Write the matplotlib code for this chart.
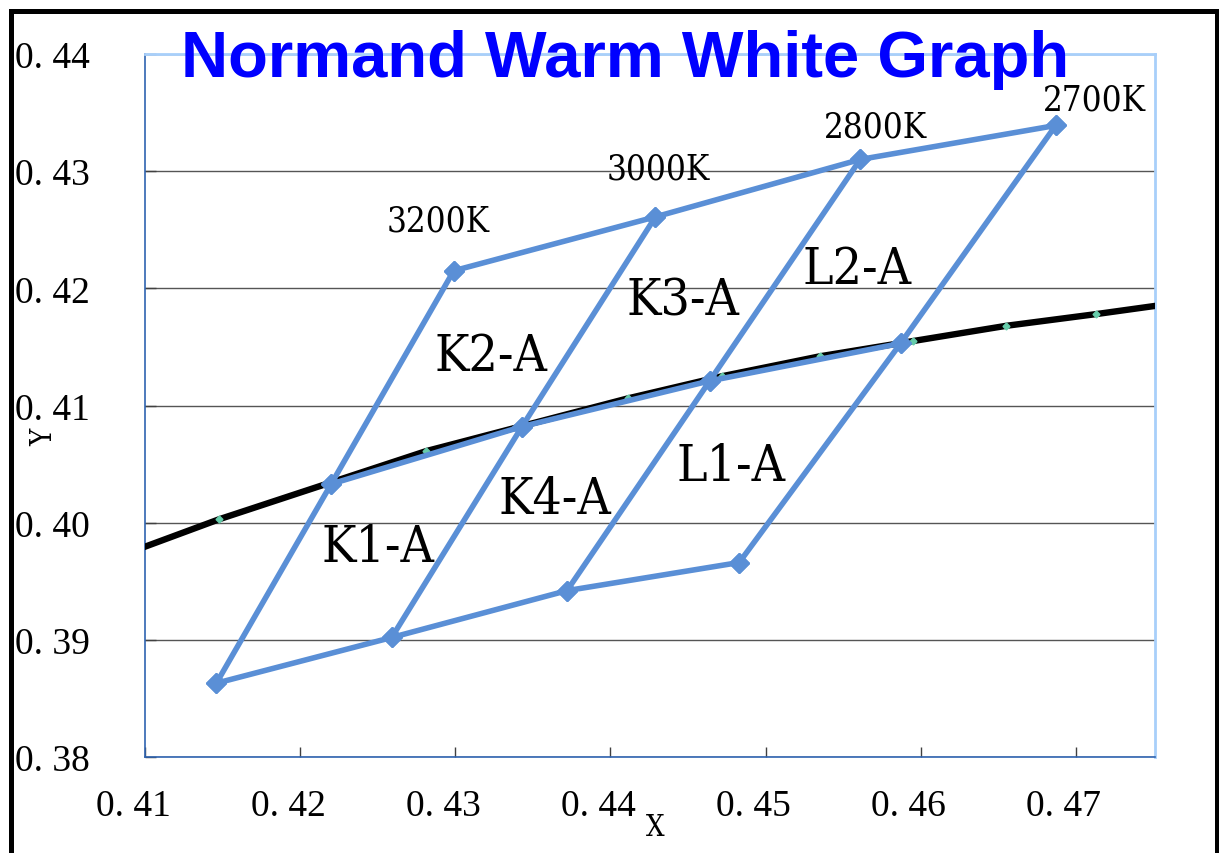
import matplotlib
matplotlib.use("Agg")
import matplotlib.pyplot as plt
from matplotlib.lines import Line2D
from matplotlib.transforms import ScaledTranslation

# DATA
# corner points of the bins (top row = upper edge, mid row = on the black curve, bot row = lower edge)
cct_labels = ['3200K', '3000K', '2800K', '2700K']
top_x = [0.4299, 0.4429, 0.4561, 0.4687]
top_y = [0.4215, 0.4261, 0.4310, 0.4339]
mid_x = [0.4220, 0.4343, 0.4464, 0.4587]
mid_y = [0.4033, 0.4082, 0.4121, 0.4153]
bot_x = [0.4146, 0.4259, 0.4372, 0.4483]
bot_y = [0.3863, 0.3902, 0.3942, 0.3966]

# black locus curve
curve_x = [0.405, 0.4148, 0.4281, 0.4411, 0.4472, 0.4535, 0.4595, 0.4655, 0.4713, 0.480]
curve_y = [0.3955, 0.4003, 0.4061, 0.4106, 0.4125, 0.4142, 0.4155, 0.4168, 0.4178, 0.4194]

# label positions
cct_lx = [0.4289, 0.4431, 0.4571, 0.4712]
cct_ly = [0.4258, 0.4302, 0.4338, 0.4361]
bin_labels = ['K1-A', 'K2-A', 'K3-A', 'L2-A', 'K4-A', 'L1-A']
bin_lx = [0.4250, 0.4323, 0.4447, 0.4559, 0.4364, 0.4478]
bin_ly = [0.3979, 0.4142, 0.4189, 0.4216, 0.4020, 0.4048]

xticks = [0.41, 0.42, 0.43, 0.44, 0.45, 0.46, 0.47]
xtick_labels = ['0. 41', '0. 42', '0. 43', '0. 44', '0. 45', '0. 46', '0. 47']
yticks = [0.38, 0.39, 0.40, 0.41, 0.42, 0.43, 0.44]
ytick_labels = ['0. 38', '0. 39', '0. 40', '0. 41', '0. 42', '0. 43', '0. 44']

blue = '#5A8FD6'
serif_cjk = dict(family='DejaVu Serif', stretch='condensed')

fig = plt.figure(figsize=(12.19, 8.54), dpi=100)
ax = fig.add_axes([145/1219, 1 - 758/854, 1010/1219, 703/854])

# black curve with small green dots
ax.plot(curve_x, curve_y, color='black', lw=4.6, marker='D', ms=3.5,
        mfc='#66CCAA', mec='#66CCAA', zorder=3)

# rows
for xs, ys in [(top_x, top_y), (mid_x, mid_y), (bot_x, bot_y)]:
    ax.plot(xs, ys, color=blue, lw=4.0, marker='D', ms=10.5, zorder=4)
# columns
for i in range(len(top_x)):
    ax.plot([bot_x[i], mid_x[i], top_x[i]], [bot_y[i], mid_y[i], top_y[i]],
            color=blue, lw=4.0, marker='D', ms=10.5, zorder=4)

for t, x, y in zip(cct_labels, cct_lx, cct_ly):
    ax.text(x, y, t, ha='center', va='center', fontsize=25, zorder=5, **serif_cjk)
for t, x, y in zip(bin_labels, bin_lx, bin_ly):
    ax.text(x, y, t, ha='center', va='center', fontsize=37, zorder=5, **serif_cjk)

ax.set_xlim(0.41, 0.4751)
ax.set_ylim(0.38, 0.44)
ax.set_xticks(xticks)
ax.set_xticklabels(xtick_labels, family='Liberation Serif', fontsize=27)
ax.set_yticks(yticks)
ax.set_yticklabels(ytick_labels, family='Liberation Serif', fontsize=27)
ax.tick_params(axis='x', direction='in', length=7, width=1, color='#404040', pad=23)
ax.tick_params(axis='y', direction='in', length=8, width=1, color='#404040', pad=40)

# x labels sit a little left of their ticks in the original
shift = ScaledTranslation(-12/100, 0, fig.dpi_scale_trans)
for lab in ax.get_xticklabels():
    lab.set_transform(lab.get_transform() + shift)

ax.grid(axis='y', color='#555555', lw=1)
ax.set_axisbelow(True)

for s in ['left', 'bottom']:
    ax.spines[s].set_color('#2F63B0')
    ax.spines[s].set_linewidth(1.2)
for s in ['top', 'right']:
    ax.spines[s].set_color('#A8CFFA')
    ax.spines[s].set_linewidth(2)

fig.text(655/1219, 1 - 828/854, 'X', ha='center', va='center', fontsize=21, **serif_cjk)
fig.text(44/1219, 1 - 437/854, 'Y', ha='center', va='center', rotation=90, fontsize=21, **serif_cjk)

fig.text(625/1219, 1 - 77/854, 'Normand Warm White Graph', ha='center', va='baseline',
         fontsize=47, fontweight='bold', color='#0000FF', family='Liberation Sans')

# outer black frame
fig.add_artist(Line2D([10.5/1219, 10.5/1219], [0, 1 - 12/854], color='black', lw=3.6))
fig.add_artist(Line2D([10.5/1219, 1217/1219], [1 - 12/854, 1 - 12/854], color='black', lw=3.6))
fig.add_artist(Line2D([1217/1219, 1217/1219], [0, 1 - 12/854], color='black', lw=3.6))

plt.savefig('out.png', dpi=100)
